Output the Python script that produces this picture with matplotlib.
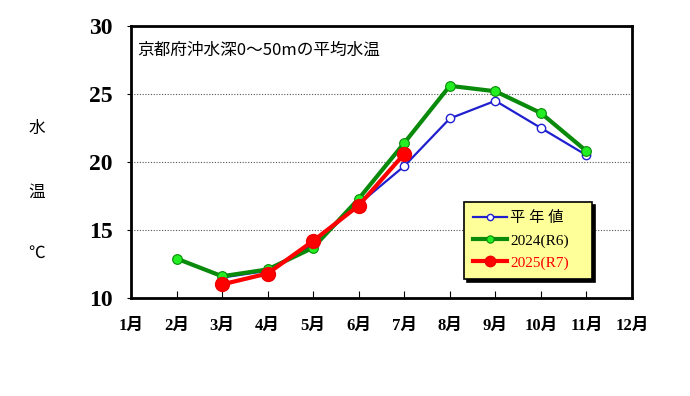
import numpy as np
import matplotlib
matplotlib.use('Agg')
import matplotlib.pyplot as plt

# data
months_normal = [3, 4, 5, 6, 7, 8, 9, 10, 11]
temp_normal = [11.5, 12.0, 13.9, 16.9, 19.7, 23.2, 24.5, 22.5, 20.5]
months_2024 = [2, 3, 4, 5, 6, 7, 8, 9, 10, 11]
temp_2024 = [12.9, 11.6, 12.1, 13.7, 17.3, 21.4, 25.6, 25.2, 23.6, 20.8]
months_2025 = [3, 4, 5, 6, 7]
temp_2025 = [11.0, 11.8, 14.2, 16.8, 20.6]

month_labels = [f'{m}月' for m in range(1, 13)]
y_ticks = [10, 15, 20, 25, 30]

FONT = ['Liberation Serif', 'Noto Sans CJK JP']
plt.rcParams['font.family'] = FONT

fig = plt.figure(figsize=(6.9, 3.96), dpi=100)
ax = fig.add_axes([131 / 690, 1 - 298 / 396, 501 / 690, 272 / 396])

ax.plot(months_normal, temp_normal, color='#1f1fd0', lw=1.6, marker='o', ms=6,
        mfc='white', mec='#1f1fd0', mew=1.0, zorder=3, label='平 年 値')
ax.plot(months_2024, temp_2024, color='#0a8a0a', lw=3, marker='o', ms=7,
        mfc='#22ee22', mec='#0a8a0a', mew=0.8, zorder=4, label='2024(R6)')
ax.plot(months_2025, temp_2025, color='#ff0000', lw=3, marker='o', ms=10,
        mfc='#ff0000', mec='#ee0000', zorder=5, label='2025(R7)')

ax.set_xlim(1, 12)
ax.set_ylim(10, 30)
ax.set_xticks(range(1, 13))
ax.set_xticklabels(month_labels, fontsize=12, fontweight='bold')
ax.set_yticks(y_ticks)
ax.set_yticklabels([str(v) for v in y_ticks], fontsize=17, fontweight='bold')
ax.tick_params(axis='x', direction='in', length=5, pad=14)
ax.tick_params(axis='y', direction='out', length=3, pad=10)
for s in ax.spines.values():
    s.set_linewidth(2)
ax.grid(axis='y', color='#555555', ls=(0, (1, 1.5)), lw=0.8)

ax.text(0.012, 0.91, '京都府沖水深0～50mの平均水温', transform=ax.transAxes,
        fontsize=12, family='Noto Sans CJK JP', va='center')

for txt, yy in [('水', 128), ('温', 192), ('℃', 253)]:
    fig.text(37 / 690, 1 - yy / 396, txt, fontsize=12, ha='center', va='center',
             family='Noto Sans CJK JP')

# legend with yellow box and shadow
leg = ax.legend(loc='lower left', bbox_to_anchor=(0.665, 0.07, 0.255, 0.283),
                mode='expand', fancybox=False,
                shadow={'color': 'black', 'alpha': 1, 'ox': 2, 'oy': -2},
                facecolor='#ffff99', edgecolor='black', framealpha=1,
                prop={'family': FONT, 'size': 11}, handlelength=2.2, markerscale=0.75,
                handletextpad=0.2, labelspacing=0.55, borderpad=0.6, borderaxespad=0)
leg.get_frame().set_linewidth(1.2)
leg.get_texts()[2].set_color('#ff0000')

fig.savefig('out.png', dpi=100)
